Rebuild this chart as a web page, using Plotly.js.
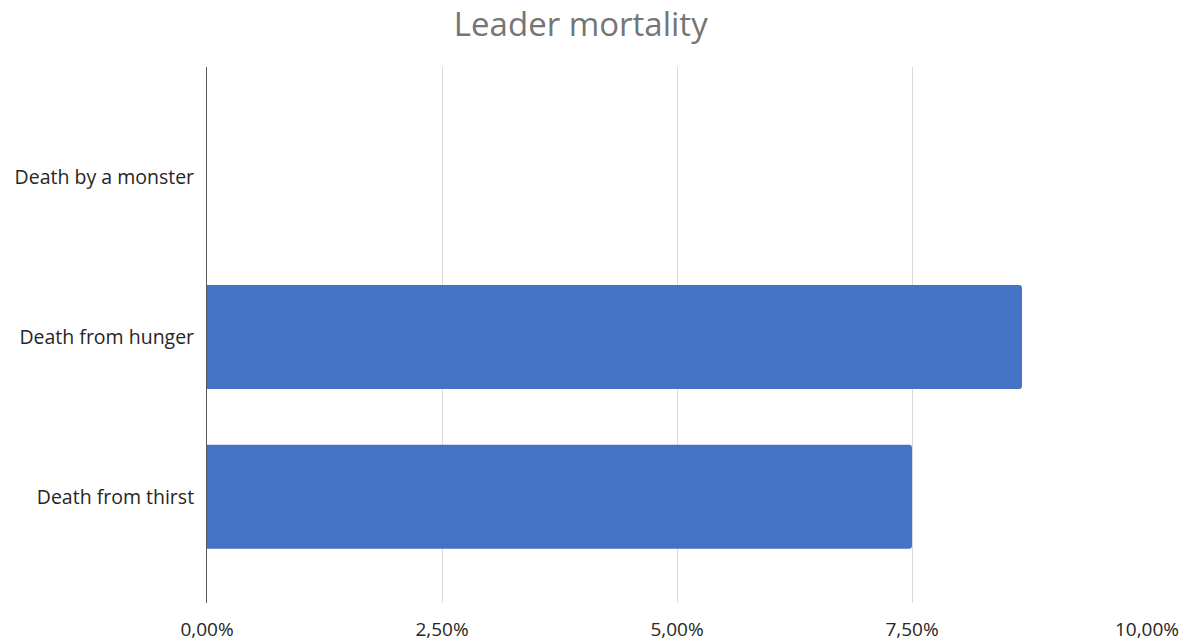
<!DOCTYPE html>
<html>
<head>
<meta charset="utf-8">
<script src="https://cdn.plot.ly/plotly-3.0.1.min.js"></script>
<style>html,body{margin:0;padding:0;background:#fff;}#chart{width:1195px;height:641px;}</style>
</head>
<body>
<div id="chart"></div>
<script>
const categories = ["Death by a monster", "Death from hunger", "Death from thirst"];
const values = [0, 0.0867, 0.075];
const tickValues = [0, 0.025, 0.05, 0.075, 0.1];
const chartTitle = "Leader mortality";

const trace = {
  type: "bar",
  orientation: "h",
  y: categories,
  x: values,
  width: 0.65,
  marker: {color: "#4472C4", cornerradius: 3},
  hoverinfo: "x+y"
};

const layout = {
  width: 1195, height: 641,
  margin: {l: 207, r: 48, t: 67, b: 38},
  separators: ",.",
  paper_bgcolor: "#ffffff",
  plot_bgcolor: "#ffffff",
  showlegend: false,
  font: {family: "Open Sans, Noto Sans, sans-serif", color: "#262626"},
  title: {
    text: chartTitle,
    x: 0.486, xanchor: "center",
    y: 0.962, yanchor: "middle",
    font: {family: "Open Sans, Noto Sans, sans-serif", size: 33, color: "#757575"}
  },
  xaxis: {
    range: [0, 0.1],
    tickvals: tickValues,
    tickformat: ".2%",
    showgrid: true,
    gridcolor: "#d9d9d9",
    gridwidth: 1,
    zeroline: false,
    showline: false,
    ticks: "",
    ticklabelstandoff: 13,
    tickfont: {size: 19, color: "#262626"}
  },
  yaxis: {
    type: "category",
    range: [2.665, -0.69],
    showgrid: false,
    zeroline: false,
    showline: true,
    linecolor: "#595959",
    linewidth: 1,
    ticks: "",
    ticklabelstandoff: 8,
    tickfont: {size: 19.5, color: "#262626"}
  }
};

Plotly.newPlot("chart", [trace], layout, {displayModeBar: false, staticPlot: true});
</script>
</body>
</html>
